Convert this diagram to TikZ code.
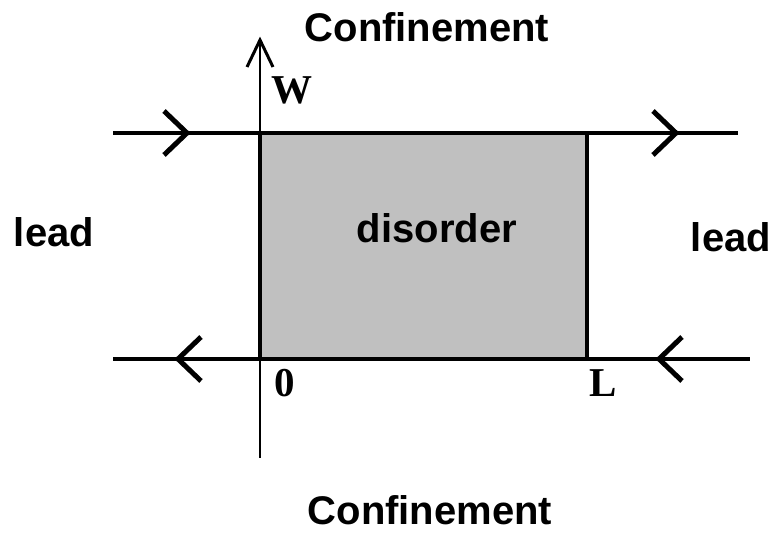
\documentclass[tikz,border=0pt]{standalone}
\usepackage{fontspec}
\setmainfont{Liberation Serif}
\newfontfamily\lsans{Liberation Sans}
\definecolor{boxgray}{RGB}{192,192,192}
\begin{document}
\begin{tikzpicture}[x=1pt,y=-1pt,
  sanslabel/.style={font=\lsans\bfseries\fontsize{40}{46}\selectfont, inner sep=0pt, anchor=base},
  seriflabel/.style={font=\bfseries\fontsize{41}{46}\selectfont, inner sep=0pt, anchor=base},
  thickline/.style={line width=4pt},
  chevron/.style={line width=5pt, miter limit=10},
  axisline/.style={line width=1.3pt}]
\useasboundingbox (0,0) rectangle (780,537);
% region
\coordinate (tl) at (260,133);
\coordinate (tr) at (587,133);
\coordinate (bl) at (260,358);
\coordinate (br) at (587,358);
\fill[boxgray] (tl) rectangle (br);
% leads
\coordinate (topL) at (113,133);
\coordinate (topR) at (738,133);
\coordinate (botL) at (113,359);
\coordinate (botR) at (750,359);
\draw[thickline] (topL) -- (topR);
\draw[thickline] (botL) -- (botR);
\draw[thickline] (tl) -- (bl);
\draw[thickline] (tr) -- (br);
% axis
\coordinate (axtop) at (260,40);
\coordinate (axbot) at (260,458);
\draw[axisline] (axbot) -- (axtop);
\draw[line width=3pt] (247,67) -- (axtop) -- (273,67);
% chevrons
\draw[chevron] (164,111) -- (187,133) -- (164,155);
\draw[chevron] (653,111) -- (676,133) -- (653,155);
\draw[chevron] (201,337) -- (178,359) -- (201,381);
\draw[chevron] (682,337) -- (659,359) -- (682,381);
% labels
\node[sanslabel] (conftop) at (427,42) {Confinement};
\node[sanslabel] (confbot) at (430,525) {Confinement};
\node[sanslabel] (disorder) at (437,243) {disorder};
\node[sanslabel] (leadL) at (54,247) {lead};
\node[sanslabel] (leadR) at (731,252) {lead};
\node[seriflabel] (W) at (292,104) {W};
\node[seriflabel] (zero) at (285,397) {0};
\node[seriflabel] (Lab) at (603,397) {L};
\end{tikzpicture}
\end{document}
